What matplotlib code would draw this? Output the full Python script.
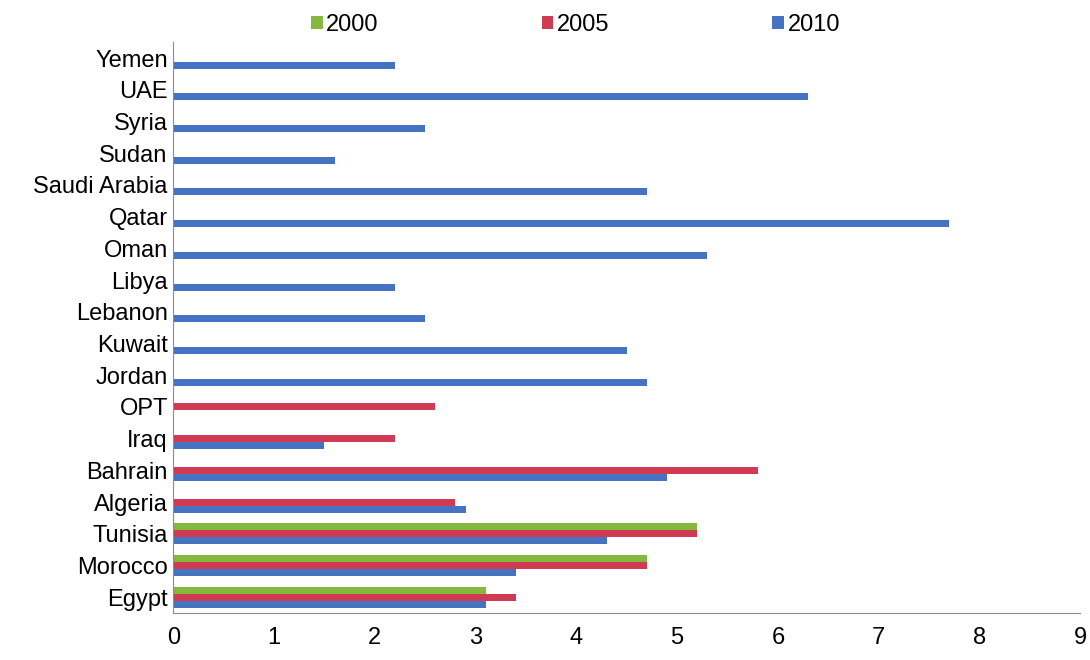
import numpy as np
import matplotlib
matplotlib.use("Agg")
import matplotlib.pyplot as plt

plt.rcParams['font.family'] = ['Liberation Sans Narrow', 'Liberation Sans', 'DejaVu Sans']

countries = ["Egypt", "Morocco", "Tunisia", "Algeria", "Bahrain", "Iraq", "OPT",
             "Jordan", "Kuwait", "Lebanon", "Libya", "Oman", "Qatar",
             "Saudi Arabia", "Sudan", "Syria", "UAE", "Yemen"]
nan = np.nan
v2000 = [3.1, 4.7, 5.2, nan, nan, nan, nan, nan, nan, nan, nan, nan, nan, nan, nan, nan, nan, nan]
v2005 = [3.4, 4.7, 5.2, 2.8, 5.8, 2.2, 2.6, nan, nan, nan, nan, nan, nan, nan, nan, nan, nan, nan]
v2010 = [3.1, 3.4, 4.3, 2.9, 4.9, 1.5, nan, 4.7, 4.5, 2.5, 2.2, 5.3, 7.7, 4.7, 1.6, 2.5, 6.3, 2.2]

years = ["2000", "2005", "2010"]
colors = ["#84b83e", "#d03a52", "#4672c2"]

fig = plt.figure(figsize=(10.9, 6.6), dpi=100)
ax = fig.add_axes([0.159, 0.071, 0.832, 0.865])

y = np.arange(len(countries))
h = 0.22
for i, (vals, c, lab) in enumerate(zip([v2000, v2005, v2010], colors, years)):
    ax.barh(y + (1 - i) * h, vals, height=h, color=c, label=lab)

ax.set_xlim(0, 9)
ax.set_ylim(-0.5, len(countries) - 0.5)
ax.set_xticks(range(10))
ax.set_yticks(y)
ax.set_yticklabels(countries)
ax.tick_params(axis='both', length=0, labelsize=17)
ax.tick_params(axis='y', pad=4)
ax.tick_params(axis='x', pad=10)
for s in ["top", "right"]:
    ax.spines[s].set_visible(False)
for s in ["left", "bottom"]:
    ax.spines[s].set_color("#8c8c8c")

fig.legend(loc="center", bbox_to_anchor=(0.528, 0.962), ncol=3, frameon=False,
           fontsize=17, handlelength=0.5, handleheight=0.5, handletextpad=0.15,
           columnspacing=6.9)

fig.savefig("out.png", dpi=100)
